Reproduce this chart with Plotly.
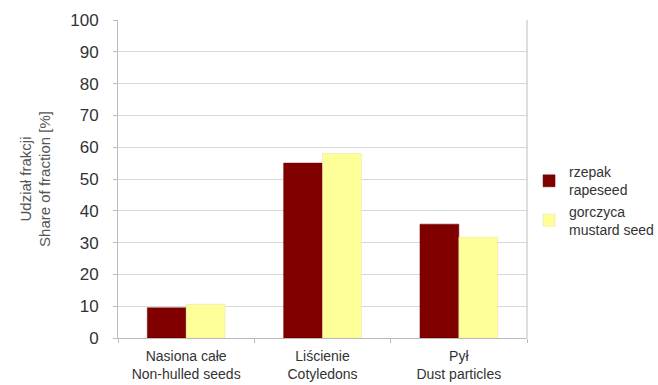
import plotly.graph_objects as go

categories = ["Nasiona całe<br>Non-hulled seeds", "Liścienie<br>Cotyledons", "Pył<br>Dust particles"]
rzepak = [9.5, 55, 35.8]
gorczyca = [10.6, 58, 31.7]
series_names = ["rzepak<br>rapeseed", "gorczyca<br>mustard seed"]
y_ticks = [0, 10, 20, 30, 40, 50, 60, 70, 80, 90, 100]

fig = go.Figure()
fig.add_trace(go.Bar(x=categories, y=rzepak, name=series_names[0],
                     marker=dict(color="#800000", line=dict(color="#6a0000", width=0.5))))
fig.add_trace(go.Bar(x=categories, y=gorczyca, name=series_names[1],
                     marker=dict(color="#FFFF99", line=dict(color="#e0e0a0", width=0.5))))

fig.update_layout(
    width=658, height=385,
    margin=dict(l=118, r=131, t=20, b=47, autoexpand=False),
    paper_bgcolor="white", plot_bgcolor="white",
    barmode="group", bargap=0.43, bargroupgap=0,
    font=dict(family="Liberation Sans, Arial, sans-serif", color="#333"),
    legend=dict(x=1.005, y=0.572, xanchor="left", yanchor="top",
                font=dict(size=14, color="#333"), tracegroupgap=31,
                itemwidth=30, bgcolor="rgba(0,0,0,0)"),
    showlegend=True,
)
fig.update_yaxes(range=[0, 100], tickvals=y_ticks, showgrid=True, gridcolor="#d8d8d8",
                 gridwidth=1, showline=True, linecolor="#bbbbbb", mirror=False,
                 ticks="outside", ticklen=4, tickcolor="#bbbbbb",
                 ticklabelstandoff=11, automargin=False,
                 tickfont=dict(size=17, color="#333"),
                 title=dict(text="Udział frakcji<br>Share of fraction [%]",
                            font=dict(size=15, color="#555"), standoff=15),
                 zeroline=False)
fig.update_xaxes(showline=True, linecolor="#bbbbbb", ticks="outside", ticklen=4,
                 tickcolor="#bbbbbb", tickson="boundaries", tickangle=0,
                 ticklabelstandoff=5, automargin=False,
                 tickfont=dict(size=14, color="#333"))
# right border of plot area
fig.add_shape(type="line", xref="paper", yref="paper", x0=1, x1=1, y0=0, y1=1,
              line=dict(color="#bbbbbb", width=1))

fig.write_html("out.html")
